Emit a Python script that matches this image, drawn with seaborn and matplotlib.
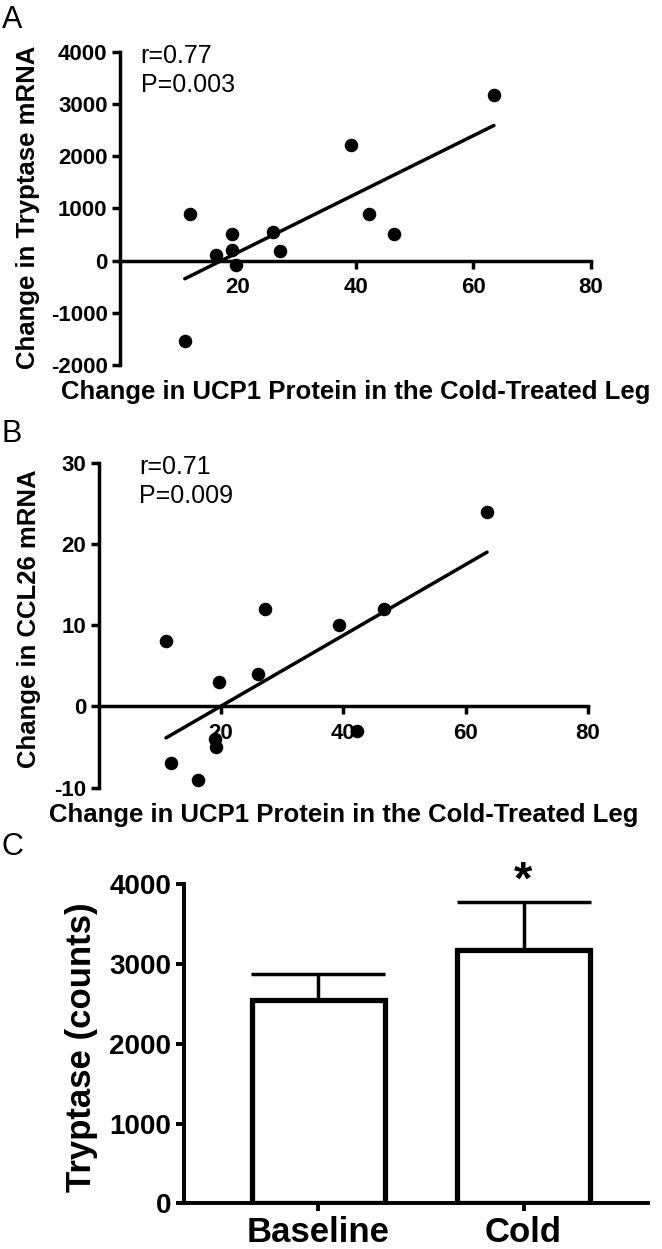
import numpy as np
import matplotlib
matplotlib.use("Agg")
import matplotlib.pyplot as plt
import seaborn as sns

# UCP1 protein change in the cold-treated leg (same subjects in A and B)
ucp1_change = [11.0, 11.9, 16.3, 19.0, 19.1, 19.7, 26.0, 27.2, 39.3, 42.3, 46.6, 63.5]
# Panel A: change in tryptase mRNA
tryptase_change = [-1550, 900, 100, 200, 500, -90, 550, 180, 2205, 890, 505, 3165]
# Panel B: change in CCL26 mRNA
ccl26_change = [8, -7, -9, -4, -5, 3, 4, 12, 10, -3, 12, 24]

# Panel C: tryptase counts
conditions = ["Baseline", "Cold"]
tryptase_mean = [2550, 3180]
tryptase_sem = [330, 600]

stats_a = ["r=0.77", "P=0.003"]
stats_b = ["r=0.71", "P=0.009"]

sns.set_style("ticks")
plt.rcParams["font.family"] = ["Liberation Sans", "DejaVu Sans"]
plt.rcParams["axes.unicode_minus"] = False
# pure black everywhere (seaborn default is dark grey)
for key in ["text.color", "axes.labelcolor", "xtick.color", "ytick.color",
            "axes.edgecolor"]:
    plt.rcParams[key] = "black"

LW = 2.5
fig = plt.figure(figsize=(6.62, 12.49), dpi=100)


def style_scatter_axes(ax, ylim, yticks, xlabel, ylabel, ylab_x, ylab_y, xlab_y):
    ax.set_xlim(0, 80)
    ax.set_ylim(*ylim)
    ax.set_xticks([20, 40, 60, 80])
    ax.set_yticks(yticks)
    ax.spines["bottom"].set_position(("data", 0))
    for side in ["top", "right"]:
        ax.spines[side].set_visible(False)
    for side in ["left", "bottom"]:
        ax.spines[side].set_linewidth(LW)
    ax.tick_params(axis="both", direction="out", length=6, width=LW,
                   labelsize=16, pad=3)
    ax.tick_params(axis="x", pad=6)
    for lab in ax.get_xticklabels() + ax.get_yticklabels():
        lab.set_fontweight("bold")
    ax.set_xlabel(xlabel, fontsize=18.5, fontweight="bold", va="baseline")
    ax.set_ylabel(ylabel, fontsize=18.5, fontweight="bold", va="baseline")
    ax.xaxis.set_label_coords(0.5, xlab_y)
    ax.yaxis.set_label_coords(ylab_x, ylab_y)


def scatter_panel(ax, y, stats, ylim, yticks, ylabel, ylab_x, ylab_y, xlab_y,
                  stat_x, stat_y):
    sns.regplot(x=np.array(ucp1_change), y=np.array(y), ax=ax, ci=None,
                color="black", truncate=True,
                scatter_kws={"s": 95, "zorder": 3, "clip_on": False,
                             "linewidths": 0, "alpha": 1},
                line_kws={"lw": LW, "zorder": 2})
    style_scatter_axes(ax, ylim, yticks,
                       "Change in UCP1 Protein in the Cold-Treated Leg",
                       ylabel, ylab_x, ylab_y, xlab_y)
    for txt, yy in zip(stats, stat_y):
        ax.text(stat_x, yy, txt, transform=ax.transAxes, fontsize=18,
                va="baseline", ha="left")


# Panel A
ax_a = fig.add_axes([0.1813, 0.7078, 0.7115, 0.2508])
scatter_panel(ax_a, tryptase_change, stats_a, (-2000, 4000),
              np.arange(-2000, 4001, 1000), "Change in Tryptase mRNA",
              -0.18, 0.503, -0.108, 0.044, [0.964, 0.872])

# Panel B
ax_b = fig.add_axes([0.1491, 0.3693, 0.7391, 0.2602])
scatter_panel(ax_b, ccl26_change, stats_b, (-10, 30), [-10, 0, 10, 20, 30],
              "Change in CCL26 mRNA", -0.128, 0.52, -0.105, 0.083,
              [0.965, 0.875])

# Panel C
ax_c = fig.add_axes([0.2773, 0.0366, 0.7015, 0.2554])
ax_c.errorbar(x=[0, 1], y=tryptase_mean,
              yerr=[[0, 0], tryptase_sem], fmt="none", ecolor="black",
              elinewidth=LW, capsize=48, capthick=LW, zorder=1)
sns.barplot(x=conditions, y=tryptase_mean, ax=ax_c, color="white",
            saturation=1, edgecolor="black", linewidth=3.8, width=0.645,
            errorbar=None, zorder=2)
ax_c.set_xlim(-0.658, 1.607)
ax_c.set_ylim(0, 4000)
ax_c.set_yticks([0, 1000, 2000, 3000, 4000])
for side in ["top", "right"]:
    ax_c.spines[side].set_visible(False)
for side in ["left", "bottom"]:
    ax_c.spines[side].set_linewidth(2.8)
ax_c.tick_params(axis="y", direction="out", length=6, width=2.8,
                 labelsize=20, pad=3)
ax_c.tick_params(axis="x", direction="out", length=6, width=2.8,
                 labelsize=25, pad=3)
for lab in ax_c.get_xticklabels() + ax_c.get_yticklabels():
    lab.set_fontweight("bold")
ax_c.set_xlabel("")
ax_c.set_ylabel("Tryptase (counts)", fontsize=25, fontweight="bold",
                va="baseline")
ax_c.yaxis.set_label_coords(-0.2, 0.49)
ax_c.text(1, 3880, "*", ha="center", va="baseline", fontsize=34,
          fontweight="bold")

# panel letters
for letter, base_px in [("A", 28), ("B", 442), ("C", 855)]:
    fig.text(0.003, 1 - base_px / 1249, letter, fontsize=22,
             va="baseline", ha="left")

fig.savefig("out.png", dpi=100)
